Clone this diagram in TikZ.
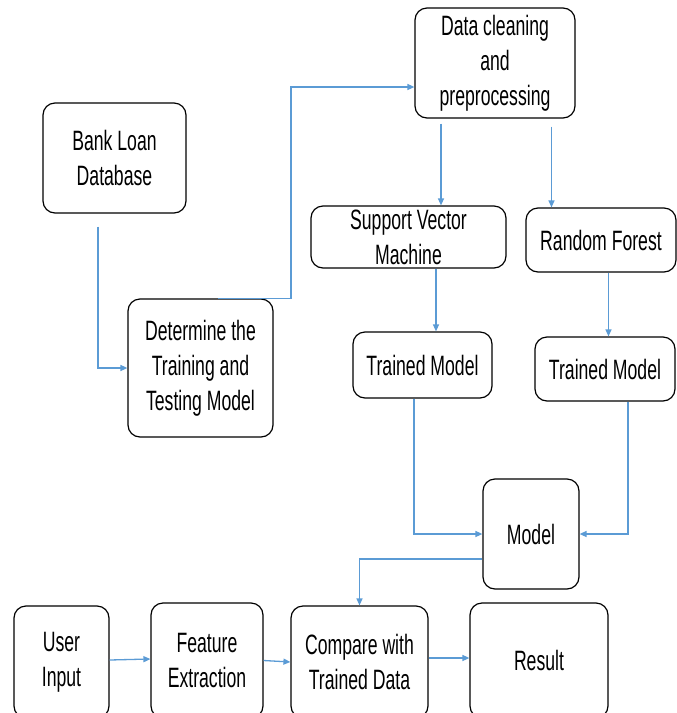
\documentclass[tikz,border=0pt]{standalone}
\usepackage{fontspec}
\setmainfont{Liberation Sans}[FakeStretch=0.63]
\usetikzlibrary{arrows.meta}
\definecolor{flecha}{RGB}{91,155,213}
\begin{document}
\begin{tikzpicture}[x=1pt,y=-1pt,
    caja/.style={draw=black, line width=1.2pt, rounded corners=12pt, align=center,
        inner sep=0pt, font=\fontsize{28}{35}\selectfont},
    conn/.style={draw=flecha, line width=1.3pt, -{Triangle[length=7pt,width=6pt]}}]
            \useasboundingbox (0,0) rectangle (677,713);

            % Cajas
            \node[caja, minimum width=143pt, minimum height=110pt] (bank) at (114.5,158) {Bank Loan\\Database};
            \node[caja, minimum width=145pt, minimum height=138pt] (split) at (200.5,368) {Determine the\\Training and\\Testing Model};
            \node[caja, minimum width=160pt, minimum height=110pt] (clean) at (495,63) {Data cleaning\\and\\preprocessing};
            \node[caja, minimum width=195pt, minimum height=62pt] (svm) at (408.5,237) {Support Vector\\Machine};
            \node[caja, minimum width=150pt, minimum height=64pt] (rf) at (601,240) {Random Forest};
            \node[caja, minimum width=139pt, minimum height=66pt] (tmsvm) at (422.5,365) {Trained Model};
            \node[caja, minimum width=140pt, minimum height=64pt] (tmrf) at (605,369) {Trained Model};
            \node[caja, minimum width=96pt, minimum height=110pt] (model) at (531,534) {Model};
            \node[caja, minimum width=95pt, minimum height=112pt] (user) at (61.5,662) {User\\Input};
            \node[caja, minimum width=112pt, minimum height=115pt] (feat) at (207,660.5) {Feature\\Extraction};
            \node[caja, minimum width=137pt, minimum height=112pt] (cmp) at (359.5,662) {Compare with\\Trained Data};
            \node[caja, minimum width=138pt, minimum height=115pt] (res) at (539,660.5) {Result};

            % Flechas
            \draw[conn] ([xshift=-16.5pt,yshift=-13pt]bank.south) |- (split.west);
            \draw[conn] ([xshift=17.5pt]split.north) -- ++(73,0) |- ([yshift=-24pt]clean.west);
            \draw[conn] ([xshift=-54pt,yshift=-5pt]clean.south) -- ([xshift=-54pt]clean.south |- svm.north);
            \draw[conn] ([xshift=56.5pt,yshift=-8pt]clean.south) -- ([xshift=56.5pt]clean.south |- rf.north);
            \draw[conn] ([xshift=27.5pt]svm.south) -- ([xshift=27.5pt]svm.south |- tmsvm.north);
            \draw[conn] ([xshift=7.5pt]rf.south) -- ([xshift=7.5pt]rf.south |- tmrf.north);
            \draw[conn] ([xshift=-8.5pt]tmsvm.south) |- (model.west);
            \draw[conn] ([xshift=23pt]tmrf.south) |- (model.east);
            \draw[conn] ([yshift=-25pt]model.west) -| (cmp.north);
            \draw[conn] ([yshift=2pt]user.east) -- ([yshift=1.5pt]feat.west);
            \draw[conn] (feat.east) -- (cmp.west);
            \draw[conn] ([yshift=4pt]cmp.east) -- ([yshift=2.5pt]res.west);
\end{tikzpicture}
\end{document}
